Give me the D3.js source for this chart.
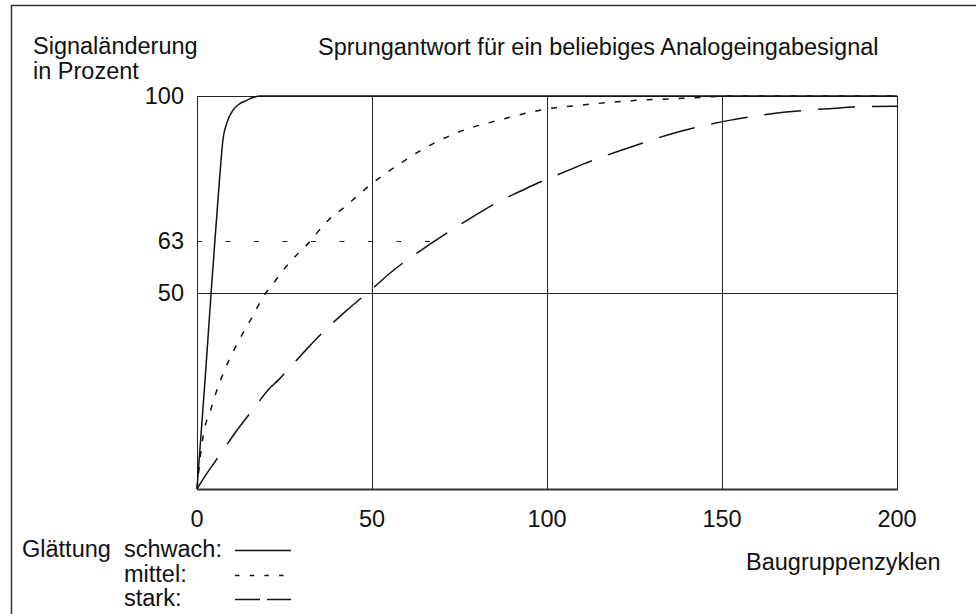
<!DOCTYPE html>
<html>
<head>
<meta charset="utf-8">
<script src="https://cdn.jsdelivr.net/npm/d3@7"></script>
<style>
  html, body { margin: 0; padding: 0; background: #fff; }
  svg { display: block; }
  text { font-family: "Liberation Sans", Arial, Helvetica, sans-serif; fill: #111; }
</style>
</head>
<body>
<svg id="chart" width="976" height="614"></svg>
<script>
// Step response curves for three smoothing levels (x: module cycles, y: percent)
const schwach = [[0,0],[2.3,27.7],[4,49.5],[5.1,63],[6.5,79.5],[7.4,88.8],[8.5,93.1],[10.3,96.4],[12,97.9],[14.2,98.9],[16,99.6],[18,100],[200,100]];
const mittel = [[0,0],[1.3,10.8],[2.3,15.9],[3.9,20.1],[5.4,24.4],[8,30.5],[12,37.8],[16.1,44.3],[18.9,48.9],[21.8,52.3],[25.1,56.2],[28.4,59.5],[31.8,62.5],[34.4,65.3],[37.5,68.4],[41.7,71.4],[45.6,74.4],[49.4,77.3],[58,82.8],[66,87.2],[75,90.9],[86.4,93.9],[95.9,96],[100,96.7],[110,97.7],[124,98.8],[138.7,99.4],[153,100],[200,100]];
const stark = [[0,0],[1.3,1.9],[7.5,9.9],[10.8,14.2],[17,21.4],[20.3,25.2],[23.2,27.7],[30,34.3],[36,39.9],[42.7,45.4],[51.3,51.9],[55.1,54.9],[64.1,60.8],[68.4,63.4],[77.4,68.5],[86.4,73.2],[91.7,75.5],[96,77.3],[106.4,81.2],[110.7,82.8],[121.2,86.2],[125.9,87.6],[136.4,90.6],[141.6,91.8],[152.1,93.8],[157.3,94.6],[168.2,95.9],[173,96.3],[184.4,97],[189.3,97.3],[200,97.4]];

// Axis ticks, grid and the 63 % reference
const xTicks = [0, 50, 100, 150, 200];
const yTicks = [50, 63, 100];
const gridX = [50, 100, 150];
const gridY = [50];
const ref63 = { y: 63, xEnd: 68.4 };

// Texts
const yTitle = ["Signaländerung", "in Prozent"];
const chartTitle = "Sprungantwort für ein beliebiges Analogeingabesignal";
const xTitle = "Baugruppenzyklen";
const legendLead = "Glättung";
const legendNames = ["schwach:", "mittel:", "stark:"];

const FS = 23.5;
const svg = d3.select("#chart");

const x = d3.scaleLinear().domain([0, 200]).range([197, 897]);
const y = d3.scaleLinear().domain([0, 100]).range([489, 96]);
const px = v => Math.round(x(v)) + 0.5;
const py = v => Math.round(y(v)) + 0.5;

// outer frame (open to the right and bottom)
svg.append("path")
  .attr("d", "M11.5,620 V5.5 H990")
  .attr("fill", "none").attr("stroke", "#333").attr("stroke-width", 1.5);

// grid lines
svg.append("g").selectAll("line").data(gridX).join("line")
  .attr("x1", d => px(d)).attr("x2", d => px(d))
  .attr("y1", y(100)).attr("y2", y(0))
  .attr("stroke", "#222").attr("stroke-width", 1);
svg.append("g").selectAll("line").data(gridY).join("line")
  .attr("x1", x(0)).attr("x2", x(200))
  .attr("y1", d => py(d)).attr("y2", d => py(d))
  .attr("stroke", "#222").attr("stroke-width", 1);

// plot frame
svg.append("rect")
  .attr("x", px(0)).attr("y", py(100))
  .attr("width", px(200) - px(0)).attr("height", py(0) - py(100))
  .attr("fill", "none").attr("stroke", "#222").attr("stroke-width", 1);
svg.append("line")
  .attr("x1", x(0)).attr("x2", x(200) + 1)
  .attr("y1", y(0) + 0.5).attr("y2", y(0) + 0.5)
  .attr("stroke", "#333").attr("stroke-width", 2);

// 63 % reference line
svg.append("line")
  .attr("x1", x(0)).attr("x2", x(ref63.xEnd))
  .attr("y1", py(ref63.y)).attr("y2", py(ref63.y))
  .attr("stroke", "#222").attr("stroke-width", 1)
  .attr("stroke-dasharray", "5,23.5");

// curves
const line = d3.line().x(d => x(d[0])).y(d => y(d[1])).curve(d3.curveMonotoneX);
const series = [
  { data: schwach, dash: null },
  { data: mittel, dash: "6,10" },
  { data: stark, dash: "37,17" }
];
svg.append("g").selectAll("path").data(series).join("path")
  .attr("d", d => line(d.data))
  .attr("fill", "none").attr("stroke", "#111").attr("stroke-width", 1.5)
  .attr("stroke-dasharray", d => d.dash);

// tick labels
svg.append("g").selectAll("text").data(xTicks).join("text")
  .attr("x", d => x(d)).attr("y", 527)
  .attr("text-anchor", "middle").attr("font-size", FS)
  .text(d => d);
svg.append("g").selectAll("text").data(yTicks).join("text")
  .attr("x", 184).attr("y", d => y(d) + 8)
  .attr("text-anchor", "end").attr("font-size", FS)
  .text(d => d);

// titles
svg.append("g").selectAll("text").data(yTitle).join("text")
  .attr("x", 33).attr("y", (d, i) => 54 + i * 25)
  .attr("font-size", FS).text(d => d);
svg.append("text").attr("x", 318).attr("y", 55)
  .attr("font-size", FS).text(chartTitle);
svg.append("text").attr("x", 746).attr("y", 570)
  .attr("font-size", FS).text(xTitle);

// legend
svg.append("text").attr("x", 22).attr("y", 557).attr("font-size", FS).text(legendLead);
const legendRows = [
  { name: legendNames[0], dash: null, y: 550 },
  { name: legendNames[1], dash: "4.5,10.2", y: 575 },
  { name: legendNames[2], dash: "25,7", y: 599 }
];
const lg = svg.append("g").selectAll("g").data(legendRows).join("g");
lg.append("text").attr("x", 124).attr("y", d => d.y + 7)
  .attr("font-size", FS).text(d => d.name);
lg.append("line")
  .attr("x1", 235).attr("x2", 291)
  .attr("y1", d => d.y + 0.5).attr("y2", d => d.y + 0.5)
  .attr("stroke", "#111").attr("stroke-width", 1.3)
  .attr("stroke-dasharray", d => d.dash);
</script>
</body>
</html>
